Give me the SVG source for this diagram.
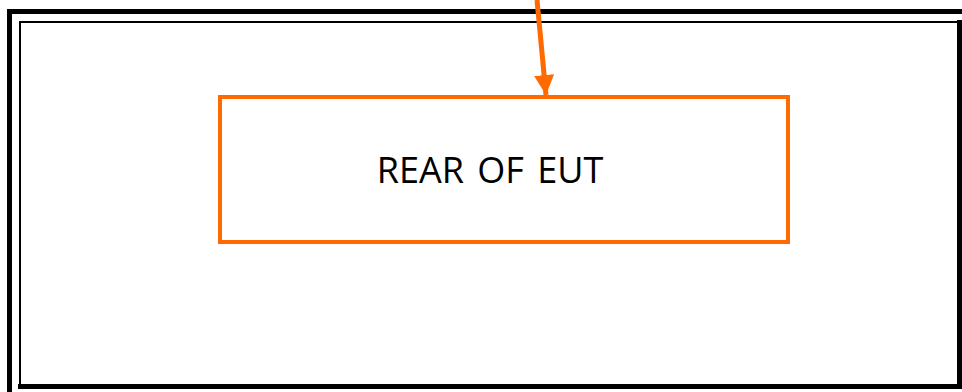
<svg xmlns="http://www.w3.org/2000/svg" width="962" height="392" viewBox="0 0 962 392">
<style>
.frame{fill:none;stroke:#000}
.box{fill:#fff;stroke:#FF6A00;stroke-width:4}
.lbl{font-family:"Open Sans","Noto Sans",sans-serif;font-size:36px;fill:#000;word-spacing:4px}
</style>
<defs>
<marker id="ah" markerUnits="userSpaceOnUse" markerWidth="20" markerHeight="20" refX="18" refY="9" orient="auto" viewBox="0 0 18 18">
<path d="M0,0 L18,9 L0,18 Z" fill="#FF6A00"/>
</marker>
</defs>
<rect width="962" height="392" fill="#fff"/>
<g id="frame">
<path class="frame" stroke-width="5" d="M9.5,392 V11.5 H962"/>
<path class="frame" stroke-width="2" d="M20,386 V22 H959"/>
<path class="frame" stroke-width="5" d="M959.5,20 V386.5 H18"/>
</g>
<g id="rear-of-eut">
<rect class="box" x="220" y="97" width="568" height="145"/>
<text class="lbl" x="490" y="183" text-anchor="middle">REAR OF EUT</text>
</g>
<g id="connectors">
<line x1="537" y1="0" x2="546" y2="95" stroke="#FF6A00" stroke-width="5" marker-end="url(#ah)"/>
</g>
</svg>
